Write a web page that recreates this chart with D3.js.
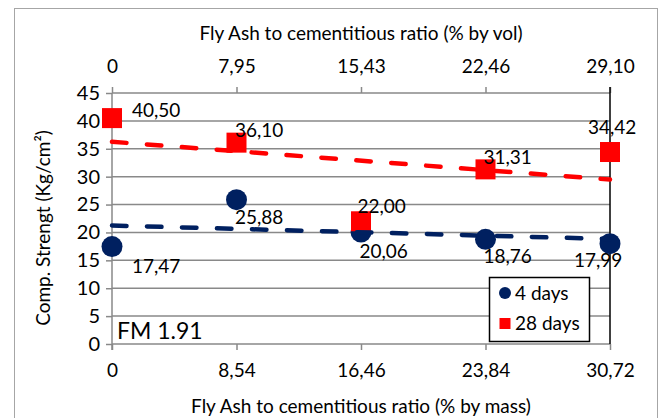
<!DOCTYPE html>
<html>
<head>
<meta charset="utf-8">
<script src="https://cdn.jsdelivr.net/npm/d3@7/dist/d3.min.js"></script>
<style>
  html, body { margin: 0; padding: 0; background: #fff; }
  svg { display: block; font-family: Lato, "Open Sans", sans-serif; }
</style>
</head>
<body>
<div id="chart"></div>
<script>
// categories (index) and the two axis label sets
const massLabels = ['0', '8,54', '16,46', '23,84', '30,72'];
const volLabels = ['0', '7,95', '15,43', '22,46', '29,10'];

const days4 = [17.47, 25.88, 20.06, 18.76, 17.99];
const days28 = [40.50, 36.10, 22.00, 31.31, 34.42];

const yTicks = [0, 5, 10, 15, 20, 25, 30, 35, 40, 45];

// hand placed data label offsets (px, from marker centre)
const off4 = [[20, 19.5], [-1.5, 17.5], [-1.5, 19.5], [-2, 17], [-36, 17]];
const off28 = [[20, -8], [-1.5, -12], [-3.5, -15], [-2, -12], [-22, -25]];

const W = 662, H = 418;
const margin = { top: 93, right: 52, bottom: 74, left: 112 };
const innerW = W - margin.left - margin.right;
const innerH = H - margin.top - margin.bottom;

const RED = '#ff0000';
const NAVY = '#002060';
const GRID = '#898989';

const fmt = v => v.toFixed(2).replace('.', ',');

function linFit(vals) {
    const n = vals.length;
    const mx = d3.mean(vals, (d, i) => i);
    const my = d3.mean(vals);
    let num = 0, den = 0;
    vals.forEach((v, i) => { num += (i - mx) * (v - my); den += (i - mx) * (i - mx); });
    const slope = num / den;
    const b = my - slope * mx;
    return [{ i: 0, v: b }, { i: n - 1, v: b + slope * (n - 1) }];
}

function draw() {
    const svg = d3.select('#chart').append('svg')
        .attr('width', W)
        .attr('height', H);

    // outer chart frame (runs off the bottom, like the original crop)
    svg.append('rect')
        .attr('x', 14.5).attr('y', 8.5)
        .attr('width', 643).attr('height', 430)
        .attr('fill', 'none')
        .attr('stroke', '#a6a6a6')
        .attr('stroke-width', 1);

    const g = svg.append('g').attr('transform', `translate(${margin.left},${margin.top})`);

    const x = d3.scalePoint()
        .domain(d3.range(massLabels.length))
        .range([0, innerW]);

    const y = d3.scaleLinear()
        .domain([0, 45])
        .range([innerH, 0]);

    // gridlines
    g.selectAll('.grid')
        .data(yTicks)
        .join('line')
        .attr('x1', 0).attr('x2', innerW)
        .attr('y1', d => y(d)).attr('y2', d => y(d))
        .attr('stroke', GRID)
        .attr('stroke-width', 1.5);

    // left axis
    const yAxis = g.append('g')
        .call(d3.axisLeft(y).tickValues(yTicks).tickSize(6).tickPadding(6));
    // bottom axis
    const xAxisB = g.append('g')
        .attr('transform', `translate(0,${innerH})`)
        .call(d3.axisBottom(x).tickSize(6).tickPadding(14).tickFormat(i => massLabels[i]));
    // top axis
    const xAxisT = g.append('g')
        .call(d3.axisTop(x).tickSize(6).tickPadding(14).tickFormat(i => volLabels[i]));

    [yAxis, xAxisB, xAxisT].forEach(a => {
        a.select('.domain').remove();
        a.selectAll('.tick line').attr('stroke', GRID).attr('stroke-width', 1.5);
        a.selectAll('.tick text')
            .attr('fill', '#000')
            .style('font-size', a === yAxis ? '20px' : '19px')
            .style('font-family', 'Lato, "Open Sans", sans-serif');
    });

    g.append('line')
        .attr('x1', 0).attr('x2', 0)
        .attr('y1', 0).attr('y2', innerH + 6)
        .attr('stroke', GRID).attr('stroke-width', 1.5);

    // right side line
    g.append('line')
        .attr('x1', innerW).attr('x2', innerW)
        .attr('y1', -6).attr('y2', innerH)
        .attr('stroke', '#000').attr('stroke-width', 1.5);

    // markers
    g.selectAll('.m4')
        .data(days4)
        .join('circle')
        .attr('cx', (d, i) => x(i))
        .attr('cy', d => y(d))
        .attr('r', 10.5)
        .attr('fill', NAVY);

    g.selectAll('.m28')
        .data(days28)
        .join('rect')
        .attr('x', (d, i) => x(i) - 10)
        .attr('y', d => y(d) - 10)
        .attr('width', 20).attr('height', 20)
        .attr('fill', RED);

    // linear trend lines
    const trend = d3.line().x(d => x(d.i)).y(d => y(d.v));
    [[days4, NAVY], [days28, RED]].forEach(([vals, col]) => {
        g.append('path')
            .attr('d', trend(linFit(vals)))
            .attr('fill', 'none')
            .attr('stroke', col)
            .attr('stroke-width', 4.5)
            .attr('stroke-linecap', 'round')
            .attr('stroke-dasharray', '14.5,20.5');
    });

    // data labels
    const lab = (vals, offs) => {
        g.append('g').selectAll('text')
            .data(vals)
            .join('text')
            .attr('x', (d, i) => x(i) + offs[i][0])
            .attr('y', (d, i) => y(d) + offs[i][1])
            .attr('dy', '0.36em')
            .style('font-size', '19px')
            .text(d => fmt(d));
    };
    lab(days28, off28);
    lab(days4, off4);

    // FM note
    g.append('text')
        .attr('x', 5).attr('y', innerH - 13)
        .attr('dy', '0.36em')
        .style('font-size', '23px')
        .text('FM 1.91');

    // legend
    const leg = g.append('g').attr('transform', `translate(${377},${184})`);
    leg.append('rect')
        .attr('x', 0.5).attr('y', 0.5)
        .attr('width', 100).attr('height', 64)
        .attr('fill', '#fff')
        .attr('stroke', '#000')
        .attr('stroke-width', 1.5);
    leg.append('circle').attr('cx', 16).attr('cy', 16).attr('r', 6).attr('fill', NAVY);
    leg.append('rect').attr('x', 10.5).attr('y', 41).attr('width', 11).attr('height', 11).attr('fill', RED);
    leg.append('text').attr('x', 26).attr('y', 16).attr('dy', '0.36em').style('font-size', '19px').text('4 days');
    leg.append('text').attr('x', 26).attr('y', 46.5).attr('dy', '0.36em').style('font-size', '19px').text('28 days');

    // axis titles
    svg.append('text')
        .attr('x', margin.left + innerW / 2).attr('y', 33)
        .attr('dy', '0.36em')
        .attr('text-anchor', 'middle')
        .style('font-size', '19px')
        .text('Fly Ash to cementitious ratio (% by vol)');
    svg.append('text')
        .attr('x', margin.left + innerW / 2).attr('y', 406)
        .attr('dy', '0.36em')
        .attr('text-anchor', 'middle')
        .style('font-size', '19px')
        .text('Fly Ash to cementitious ratio (% by mass)');
    svg.append('text')
        .attr('transform', 'translate(43,228) rotate(-90)')
        .attr('dy', '0.36em')
        .attr('text-anchor', 'middle')
        .style('font-size', '19px')
        .text('Comp. Strengt (Kg/cm\u00b2)');
}

draw();
</script>
</body>
</html>
